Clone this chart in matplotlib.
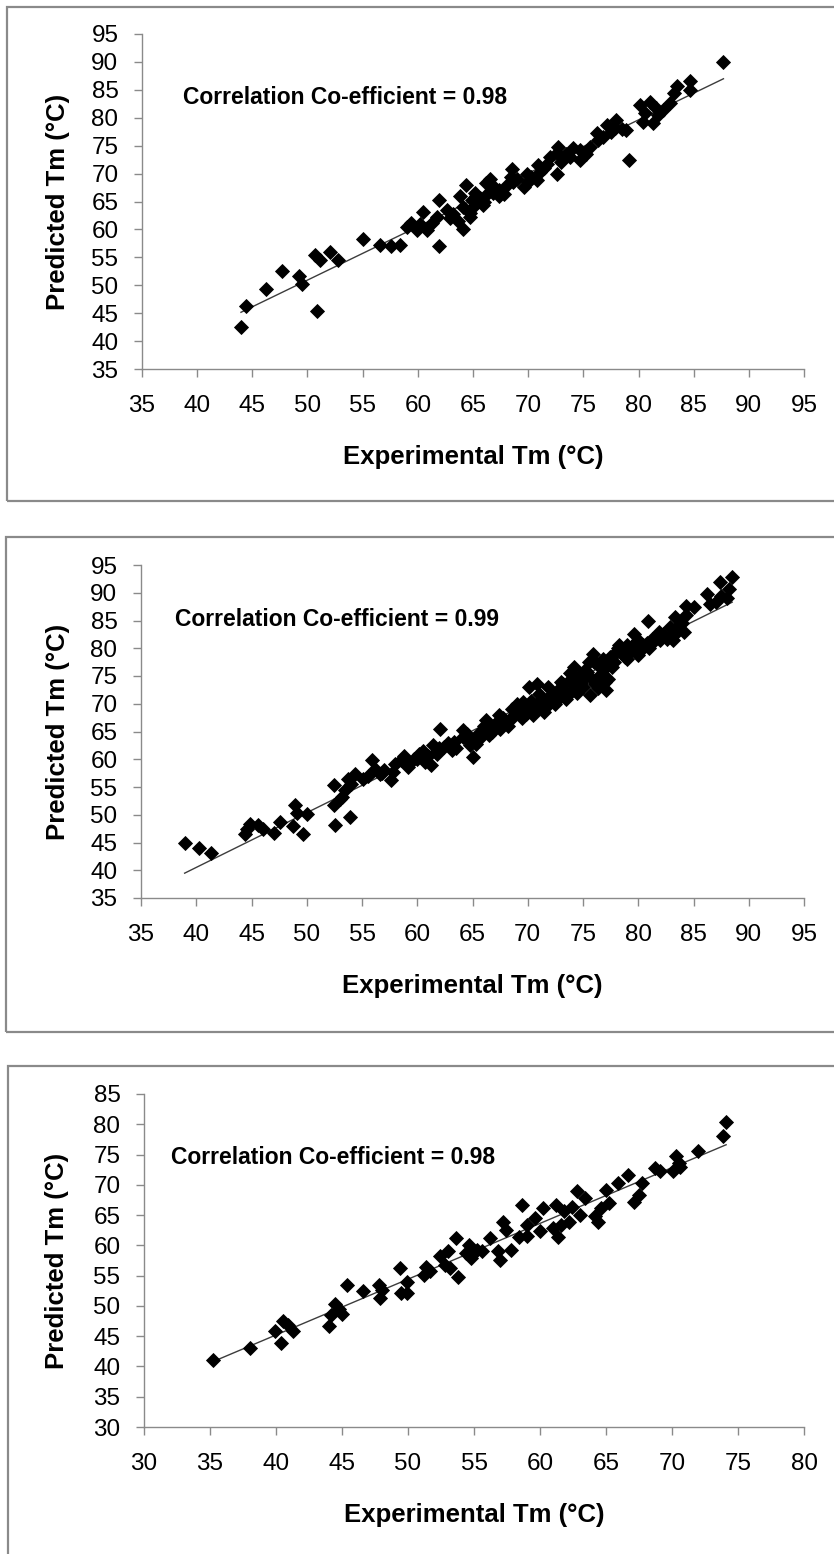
import numpy as np
import matplotlib

matplotlib.use("Agg")
import matplotlib.pyplot as plt
from matplotlib.patches import Rectangle

plt.rcParams["font.family"] = ["Liberation Sans", "DejaVu Sans"]

W, H = 834, 1554

# --- data (experimental vs predicted Tm, °C) ---
exp_a = [43.97, 44.4, 46.2, 47.66, 49.2, 49.5, 50.9, 50.7, 51.1, 52.0, 52.8, 55.0,
         56.6, 57.6, 58.4, 59.0, 59.4, 59.9, 60.5, 60.8, 61.3, 61.95, 61.95, 61.7,
         62.6, 62.9, 64.1, 64.1, 64.4, 63.8, 64.9, 64.7, 65.3, 66.2, 65.9, 64.7,
         65.0, 65.3, 65.2, 65.6, 66.4, 66.8, 67.4, 66.5, 67.4, 68.1, 68.4, 68.5,
         68.6, 69.6, 70.0, 69.9, 70.8, 71.1, 70.9, 71.7, 72.6, 72.0, 72.6, 72.7,
         73.8, 74.7, 74.1, 74.7, 75.6, 76.3, 76.2, 77.1, 78.0, 77.9, 78.9, 79.1,
         80.4, 81.3, 80.6, 81.6, 81.0, 80.1, 82.2, 82.9, 83.2, 83.5, 84.7, 84.7,
         87.7,
         60.2, 63.2, 63.6, 66.0, 67.0, 67.8, 69.0, 70.3, 71.4, 73.0, 73.4, 75.2,
         76.8, 77.5, 78.5, 81.8]
pred_a = [42.5, 46.3, 49.3, 52.55, 51.7, 50.3, 45.3, 55.4, 54.5, 56.0, 54.5, 58.2,
          57.2, 57.0, 57.2, 60.5, 61.2, 59.9, 63.2, 59.9, 61.1, 65.3, 57.0, 62.3,
          63.5, 62.0, 60.0, 64.1, 68.0, 65.9, 65.3, 62.9, 66.0, 68.3, 64.4, 62.3,
          64.1, 64.7, 66.5, 65.6, 66.5, 66.5, 65.9, 69.1, 67.1, 68.0, 69.4, 70.9,
          68.5, 67.6, 68.5, 70.0, 68.8, 70.2, 71.5, 71.8, 70.0, 73.0, 73.6, 74.8,
          73.0, 72.4, 74.5, 74.2, 74.8, 76.0, 77.2, 78.7, 79.6, 78.1, 77.8, 72.4,
          79.3, 79.0, 80.8, 81.7, 82.9, 82.3, 81.4, 82.6, 84.4, 85.6, 85.0, 86.5,
          90.0,
          61.0, 62.8, 61.5, 65.0, 67.5, 66.3, 69.0, 69.3, 71.0, 72.0, 73.5, 73.5,
          76.5, 77.5, 78.0, 80.5]

exp_b = [38.95, 40.25, 41.3, 44.4, 44.6, 44.9, 45.6, 46.0, 47.0, 47.6, 48.8, 48.9,
         49.1, 49.7, 50.0, 52.5, 52.6, 52.5, 53.2, 53.5, 53.7, 53.9, 54.4, 55.1,
         55.9, 56.6, 57.6, 57.8, 58.0, 59.2, 59.7, 60.2, 60.7, 61.2, 61.4, 62.1,
         61.7, 62.4, 63.1, 63.3, 64.1, 64.1, 64.5, 65.0, 65.3, 65.5, 66.0, 66.2,
         66.5, 67.0, 67.4, 67.7, 68.4, 68.6, 69.1, 69.6, 69.8, 70.1, 70.6, 70.8,
         71.0, 71.0, 71.5, 72.0, 72.5, 72.7, 73.2, 73.7, 73.9, 74.2, 74.4, 74.7,
         74.9, 75.4, 75.6, 75.9, 76.1, 76.3, 76.6, 76.8, 77.1, 77.3, 77.6, 78.0,
         78.3, 78.8, 79.2, 79.6, 80.0, 80.4, 80.9, 81.2, 81.9, 82.6, 82.9, 83.1,
         83.3, 83.8, 84.1, 84.3, 85.0, 86.2, 87.0, 87.4, 88.2, 88.5,
         55.5, 56.2, 57.0, 58.5, 59.0, 60.0, 60.5, 61.0, 62.0, 62.8, 63.5, 64.5,
         65.0, 65.8, 66.3, 66.8, 67.2, 67.8, 68.2, 68.8, 69.3, 69.5, 70.0, 70.3,
         70.5, 71.3, 71.8, 72.2, 72.8, 73.3, 73.5, 74.0, 74.5, 75.0, 75.2, 75.8,
         76.0, 76.4, 76.8, 77.0, 77.4, 77.8, 78.5, 79.0, 79.5, 80.2, 80.8, 81.5,
         82.2, 83.5, 84.0, 84.3, 86.5, 87.5,
         53.0, 54.0, 56.8, 58.8, 61.8, 64.8, 66.0, 67.5, 69.0, 70.8, 71.8, 72.5,
         73.0, 73.8, 74.8, 75.5, 76.5, 77.2, 78.2, 79.0, 80.0, 81.0, 82.0, 83.0,
         88.0]
pred_b = [44.9, 44.0, 43.1, 46.6, 47.5, 48.4, 48.1, 47.5, 46.8, 48.7, 48.0, 51.7,
          50.3, 46.6, 50.2, 51.7, 48.1, 55.3, 53.2, 54.4, 56.5, 49.6, 57.4, 56.5,
          59.8, 57.4, 56.2, 57.7, 59.2, 58.6, 60.1, 61.0, 59.5, 58.9, 62.5, 65.5,
          61.3, 62.2, 61.6, 63.1, 64.0, 65.2, 63.7, 60.4, 62.8, 64.6, 65.5, 67.0,
          64.3, 66.1, 67.9, 66.4, 67.0, 69.1, 68.5, 70.3, 68.2, 73.0, 69.1, 73.6,
          71.8, 69.7, 68.5, 71.2, 70.3, 72.4, 73.6, 71.8, 74.5, 76.6, 73.0, 75.1,
          74.2, 75.7, 71.5, 79.0, 73.6, 77.2, 75.4, 78.1, 72.4, 74.5, 76.6, 79.3,
          80.5, 78.4, 79.3, 82.6, 78.7, 80.5, 85.0, 81.7, 82.9, 81.7, 83.8, 81.4,
          85.6, 84.4, 82.9, 87.7, 87.4, 89.8, 88.3, 91.9, 90.7, 92.8,
          57.0, 58.3, 58.0, 59.8, 59.3, 60.0, 61.5, 60.5, 62.0, 63.0, 62.0, 64.5,
          63.5, 64.0, 65.5, 65.0, 66.8, 67.5, 66.0, 68.0, 69.5, 67.5, 69.0, 70.5,
          68.0, 70.8, 69.8, 71.8, 71.0, 72.5, 70.8, 73.5, 72.0, 73.0, 76.0, 74.5,
          77.5, 72.8, 76.0, 74.0, 78.5, 77.5, 79.5, 78.0, 80.5, 79.5, 81.0, 81.5,
          82.5, 83.0, 84.5, 86.0, 88.0, 89.5,
          52.8, 55.5, 57.5, 60.5, 61.0, 62.5, 66.0, 65.5, 70.0, 70.0, 73.0, 70.0,
          74.0, 75.5, 73.8, 77.5, 74.5, 77.0, 80.0, 80.5, 81.5, 80.0, 81.5, 82.0,
          89.0]

exp_c = [35.2, 38.0, 39.9, 40.4, 40.5, 40.9, 41.3, 44.0, 44.2, 44.5, 44.8, 45.0,
         45.4, 46.6, 47.8, 47.9, 48.0, 49.4, 49.5, 49.9, 49.9, 51.2, 51.4, 51.7,
         52.4, 52.8, 53.0, 53.2, 53.6, 53.8, 54.4, 54.6, 54.8, 55.2, 55.6, 56.2,
         56.8, 57.0, 57.2, 57.4, 57.8, 58.4, 58.6, 59.0, 59.0, 59.6, 60.0, 60.2,
         61.0, 61.2, 61.4, 61.6, 61.8, 62.2, 62.4, 62.8, 63.0, 63.4, 64.2, 64.4,
         64.6, 65.0, 65.2, 65.9, 66.7, 67.1, 67.5, 67.7, 68.7, 69.1, 70.1, 70.3,
         70.5, 70.6, 72.0, 73.9, 74.1]
pred_c = [41.1, 43.1, 45.8, 43.9, 47.5, 46.9, 45.8, 46.7, 48.5, 50.3, 49.5, 48.7,
          53.5, 52.4, 53.5, 51.3, 52.7, 56.2, 52.1, 54.0, 52.1, 55.1, 56.5, 55.7,
          58.2, 56.8, 59.1, 56.2, 61.2, 54.7, 58.7, 60.1, 57.9, 59.3, 59.0, 61.2,
          59.0, 57.6, 63.9, 62.6, 59.3, 61.3, 66.7, 61.5, 63.4, 64.5, 62.3, 66.1,
          62.8, 66.7, 61.3, 63.4, 65.6, 63.9, 66.4, 68.9, 65.0, 67.8, 64.8, 63.9,
          66.1, 69.2, 67.0, 70.3, 71.6, 67.2, 68.3, 70.3, 72.7, 72.2, 72.2, 74.7,
          73.6, 73.0, 75.6, 78.0, 80.4]

coef_labels = ["0.98", "0.99", "0.98"]
ticks_ab = list(range(35, 100, 5))
ticks_c_x = list(range(30, 85, 5))
ticks_c_y = list(range(30, 90, 5))

series = [
    (exp_a, pred_a, ticks_ab, ticks_ab),
    (exp_b, pred_b, ticks_ab, ticks_ab),
    (exp_c, pred_c, ticks_c_x, ticks_c_y),
]

# layout in pixels: axes (left, top, right, bottom), frame (left, top, bottom), note (x, y)
axes_px = [(142, 34, 804, 369), (141, 565, 804, 898), (144, 1094, 804, 1427)]
frame_px = [(7, 7, 501), (6, 537, 1032), (8, 1066, 1570)]
note_px = [(183, 97), (175, 620), (171, 1157)]

GRAY = "#8a8a8a"

fig = plt.figure(figsize=(W / 100, H / 100), dpi=100)

for (x, y, xt, yt), (l, t, r, b), (fl, ft, fb), (nx, ny), cc in zip(
        series, axes_px, frame_px, note_px, coef_labels):
    fig.add_artist(Rectangle((fl / W, 1 - fb / H), (W + 10 - fl) / W, (fb - ft) / H,
                             transform=fig.transFigure, fill=False,
                             edgecolor=GRAY, linewidth=1.6))
    ax = fig.add_axes([l / W, 1 - b / H, (r - l) / W, (b - t) / H])
    ax.plot(x, y, "D", ms=7.6, color="black", mec="black", mew=0.6, zorder=3)

    k = np.polyfit(x, y, 1)
    xs = np.array([min(x), max(x)])
    ax.plot(xs, np.polyval(k, xs), color="#3c3c3c", lw=1.0, zorder=2)

    ax.set_xlim(xt[0], xt[-1])
    ax.set_ylim(yt[0], yt[-1])
    ax.set_xticks(xt)
    ax.set_yticks(yt)
    for side in ("top", "right"):
        ax.spines[side].set_visible(False)
    for side in ("left", "bottom"):
        ax.spines[side].set_color(GRAY)
        ax.spines[side].set_linewidth(1.0)
    ax.tick_params(axis="both", direction="out", length=6, width=1.0,
                   color=GRAY, labelsize=17.5, labelcolor="black")
    ax.tick_params(axis="x", pad=13)
    ax.tick_params(axis="y", pad=11)

    ax.set_xlabel("Experimental Tm (°C)", fontsize=18.5, fontweight="bold")
    ax.xaxis.label.set_va("center")
    ax.xaxis.set_label_coords(0.5, -88 / (b - t))
    ax.set_ylabel("Predicted Tm (°C)", fontsize=18.5, fontweight="bold")
    ax.yaxis.label.set_va("center")
    ax.yaxis.set_label_coords(-(l - 57.5) / (r - l), 0.5)

    fig.text(nx / W, 1 - ny / H, f"Correlation Co-efficient = {cc}",
             fontsize=16.5, fontweight="bold", ha="left", va="center")

fig.savefig("out.png", dpi=100)
